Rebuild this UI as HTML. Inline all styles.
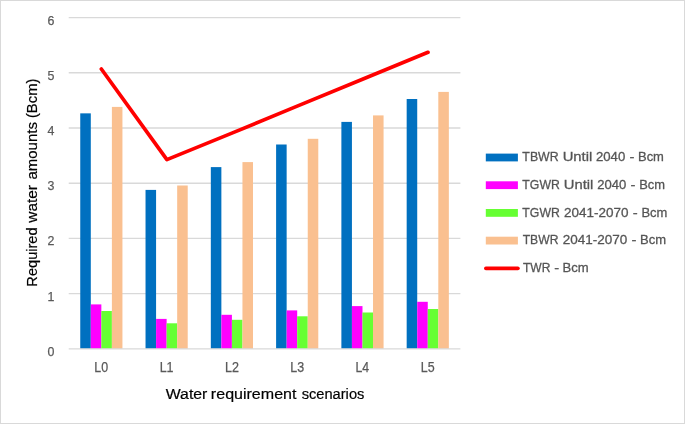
<!DOCTYPE html>
<html><head><meta charset="utf-8"><title>Water requirement scenarios</title>
<style>
html,body{margin:0;padding:0;background:#fff;}
body{width:685px;height:424px;overflow:hidden;position:relative;font-family:"Liberation Sans",sans-serif;}
svg{position:absolute;left:0;top:0;display:block;}
text{font-family:"Liberation Sans",sans-serif;}
.tk{font-size:13.5px;fill:#595959;stroke:#595959;stroke-width:0.25px;}
.tkx{font-size:13.8px;fill:#595959;stroke:#595959;stroke-width:0.25px;}
.lg{font-size:13.7px;fill:#555;stroke:#555;stroke-width:0.3px;}
.ti{font-size:14.9px;fill:#000;stroke:#000;stroke-width:0.2px;}
</style></head><body>
<svg width="685" height="424" viewBox="0 0 685 424">
<rect x="0" y="0" width="685" height="424" fill="#fff"/>
<rect x="0.5" y="0.5" width="684" height="423" fill="none" stroke="#D9D9D9" stroke-width="1"/>
<line x1="68.7" x2="460.4" y1="17.60" y2="17.60" stroke="#D9D9D9" stroke-width="1.4"/><line x1="68.7" x2="460.4" y1="72.80" y2="72.80" stroke="#D9D9D9" stroke-width="1.4"/><line x1="68.7" x2="460.4" y1="128.00" y2="128.00" stroke="#D9D9D9" stroke-width="1.4"/><line x1="68.7" x2="460.4" y1="183.20" y2="183.20" stroke="#D9D9D9" stroke-width="1.4"/><line x1="68.7" x2="460.4" y1="238.40" y2="238.40" stroke="#D9D9D9" stroke-width="1.4"/><line x1="68.7" x2="460.4" y1="293.60" y2="293.60" stroke="#D9D9D9" stroke-width="1.4"/>
<rect x="80.25" y="113.35" width="10.55" height="235.45" fill="#0070C0"/><rect x="90.80" y="304.40" width="10.55" height="44.40" fill="#FF00FF"/><rect x="101.34" y="311.00" width="10.55" height="37.80" fill="#66FF33"/><rect x="111.89" y="106.90" width="10.55" height="241.90" fill="#FAC090"/><rect x="145.53" y="189.90" width="10.55" height="158.90" fill="#0070C0"/><rect x="156.08" y="318.90" width="10.55" height="29.90" fill="#FF00FF"/><rect x="166.62" y="323.30" width="10.55" height="25.50" fill="#66FF33"/><rect x="177.17" y="185.50" width="10.55" height="163.30" fill="#FAC090"/><rect x="210.82" y="167.10" width="10.55" height="181.70" fill="#0070C0"/><rect x="221.36" y="314.80" width="10.55" height="34.00" fill="#FF00FF"/><rect x="231.91" y="319.80" width="10.55" height="29.00" fill="#66FF33"/><rect x="242.45" y="162.10" width="10.55" height="186.70" fill="#FAC090"/><rect x="276.10" y="144.50" width="10.55" height="204.30" fill="#0070C0"/><rect x="286.65" y="310.40" width="10.55" height="38.40" fill="#FF00FF"/><rect x="297.19" y="316.30" width="10.55" height="32.50" fill="#66FF33"/><rect x="307.74" y="138.80" width="10.55" height="210.00" fill="#FAC090"/><rect x="341.38" y="121.90" width="10.55" height="226.90" fill="#0070C0"/><rect x="351.93" y="306.10" width="10.55" height="42.70" fill="#FF00FF"/><rect x="362.47" y="312.50" width="10.55" height="36.30" fill="#66FF33"/><rect x="373.02" y="115.40" width="10.55" height="233.40" fill="#FAC090"/><rect x="406.67" y="99.00" width="10.55" height="249.80" fill="#0070C0"/><rect x="417.21" y="301.80" width="10.55" height="47.00" fill="#FF00FF"/><rect x="427.76" y="309.00" width="10.55" height="39.80" fill="#66FF33"/><rect x="438.30" y="91.90" width="10.55" height="256.90" fill="#FAC090"/>
<line x1="68.7" x2="460.4" y1="348.90" y2="348.90" stroke="#D9D9D9" stroke-width="1.4"/>
<polyline points="101.34,69.00 166.90,159.60 231.91,133.10 297.19,106.10 362.47,79.20 428.00,52.30" fill="none" stroke="#FF0000" stroke-width="3.7" stroke-linecap="round" stroke-linejoin="round"/>
<g style="opacity:0.999">
<text x="47.55" y="355.80" class="tk" textLength="6.91" lengthAdjust="spacingAndGlyphs">0</text><text x="47.55" y="300.60" class="tk" textLength="6.91" lengthAdjust="spacingAndGlyphs">1</text><text x="47.55" y="245.40" class="tk" textLength="6.91" lengthAdjust="spacingAndGlyphs">2</text><text x="47.55" y="190.20" class="tk" textLength="6.91" lengthAdjust="spacingAndGlyphs">3</text><text x="47.55" y="135.00" class="tk" textLength="6.91" lengthAdjust="spacingAndGlyphs">4</text><text x="47.55" y="79.80" class="tk" textLength="6.91" lengthAdjust="spacingAndGlyphs">5</text><text x="47.55" y="24.60" class="tk" textLength="6.91" lengthAdjust="spacingAndGlyphs">6</text>
<text x="94.37" y="372.00" class="tkx" textLength="13.80" lengthAdjust="spacingAndGlyphs">L0</text><text x="159.65" y="372.00" class="tkx" textLength="13.94" lengthAdjust="spacingAndGlyphs">L1</text><text x="224.93" y="372.00" class="tkx" textLength="13.96" lengthAdjust="spacingAndGlyphs">L2</text><text x="290.22" y="372.00" class="tkx" textLength="13.87" lengthAdjust="spacingAndGlyphs">L3</text><text x="355.52" y="372.00" class="tkx" textLength="13.67" lengthAdjust="spacingAndGlyphs">L4</text><text x="420.79" y="372.00" class="tkx" textLength="13.84" lengthAdjust="spacingAndGlyphs">L5</text>
<text x="165.78" y="398.50" class="ti" textLength="41.63" lengthAdjust="spacingAndGlyphs">Water</text><text x="210.88" y="398.50" class="ti" textLength="85.58" lengthAdjust="spacingAndGlyphs">requirement</text><text x="301.64" y="398.50" class="ti" textLength="62.74" lengthAdjust="spacingAndGlyphs">scenarios</text>
<g transform="translate(37.3,285.7) rotate(-90)"><text x="-0.95" y="0.00" class="ti" textLength="59.24" lengthAdjust="spacingAndGlyphs">Required</text><text x="63.07" y="0.00" class="ti" textLength="37.63" lengthAdjust="spacingAndGlyphs">water</text><text x="106.11" y="0.00" class="ti" textLength="57.58" lengthAdjust="spacingAndGlyphs">amounts</text><text x="167.63" y="0.00" class="ti" textLength="39.54" lengthAdjust="spacingAndGlyphs">(Bcm)</text></g>
<rect x="485.8" y="153.60" width="32.1" height="7.8" fill="#0070C0"/><text x="522.37" y="161.00" class="lg" textLength="36.25" lengthAdjust="spacingAndGlyphs">TBWR</text><text x="562.67" y="161.00" class="lg" textLength="29.60" lengthAdjust="spacingAndGlyphs">Until</text><text x="595.99" y="161.00" class="lg" textLength="29.28" lengthAdjust="spacingAndGlyphs">2040</text><text x="629.44" y="161.00" class="lg" textLength="4.93" lengthAdjust="spacingAndGlyphs">-</text><text x="637.99" y="161.00" class="lg" textLength="25.92" lengthAdjust="spacingAndGlyphs">Bcm</text><rect x="485.8" y="181.30" width="32.1" height="7.8" fill="#FF00FF"/><text x="522.37" y="188.75" class="lg" textLength="37.44" lengthAdjust="spacingAndGlyphs">TGWR</text><text x="563.72" y="188.75" class="lg" textLength="29.60" lengthAdjust="spacingAndGlyphs">Until</text><text x="597.19" y="188.75" class="lg" textLength="29.07" lengthAdjust="spacingAndGlyphs">2040</text><text x="630.64" y="188.75" class="lg" textLength="4.93" lengthAdjust="spacingAndGlyphs">-</text><text x="639.19" y="188.75" class="lg" textLength="25.81" lengthAdjust="spacingAndGlyphs">Bcm</text><rect x="485.8" y="209.00" width="32.1" height="7.8" fill="#66FF33"/><text x="522.37" y="216.50" class="lg" textLength="37.44" lengthAdjust="spacingAndGlyphs">TGWR</text><text x="564.07" y="216.50" class="lg" textLength="64.51" lengthAdjust="spacingAndGlyphs">2041-2070</text><text x="632.89" y="216.50" class="lg" textLength="4.93" lengthAdjust="spacingAndGlyphs">-</text><text x="641.39" y="216.50" class="lg" textLength="25.92" lengthAdjust="spacingAndGlyphs">Bcm</text><rect x="485.8" y="236.70" width="32.1" height="7.8" fill="#FAC090"/><text x="522.68" y="244.25" class="lg" textLength="35.74" lengthAdjust="spacingAndGlyphs">TBWR</text><text x="562.87" y="244.25" class="lg" textLength="64.51" lengthAdjust="spacingAndGlyphs">2041-2070</text><text x="631.49" y="244.25" class="lg" textLength="4.93" lengthAdjust="spacingAndGlyphs">-</text><text x="639.98" y="244.25" class="lg" textLength="26.03" lengthAdjust="spacingAndGlyphs">Bcm</text><line x1="485.9" x2="517.9" y1="268.30" y2="268.30" stroke="#FF0000" stroke-width="3.7" stroke-linecap="round"/><text x="522.92" y="272.00" class="lg" textLength="27.45" lengthAdjust="spacingAndGlyphs">TWR</text><text x="554.29" y="272.00" class="lg" textLength="4.93" lengthAdjust="spacingAndGlyphs">-</text><text x="562.48" y="272.00" class="lg" textLength="26.13" lengthAdjust="spacingAndGlyphs">Bcm</text>
</g>
</svg>
</body></html>
